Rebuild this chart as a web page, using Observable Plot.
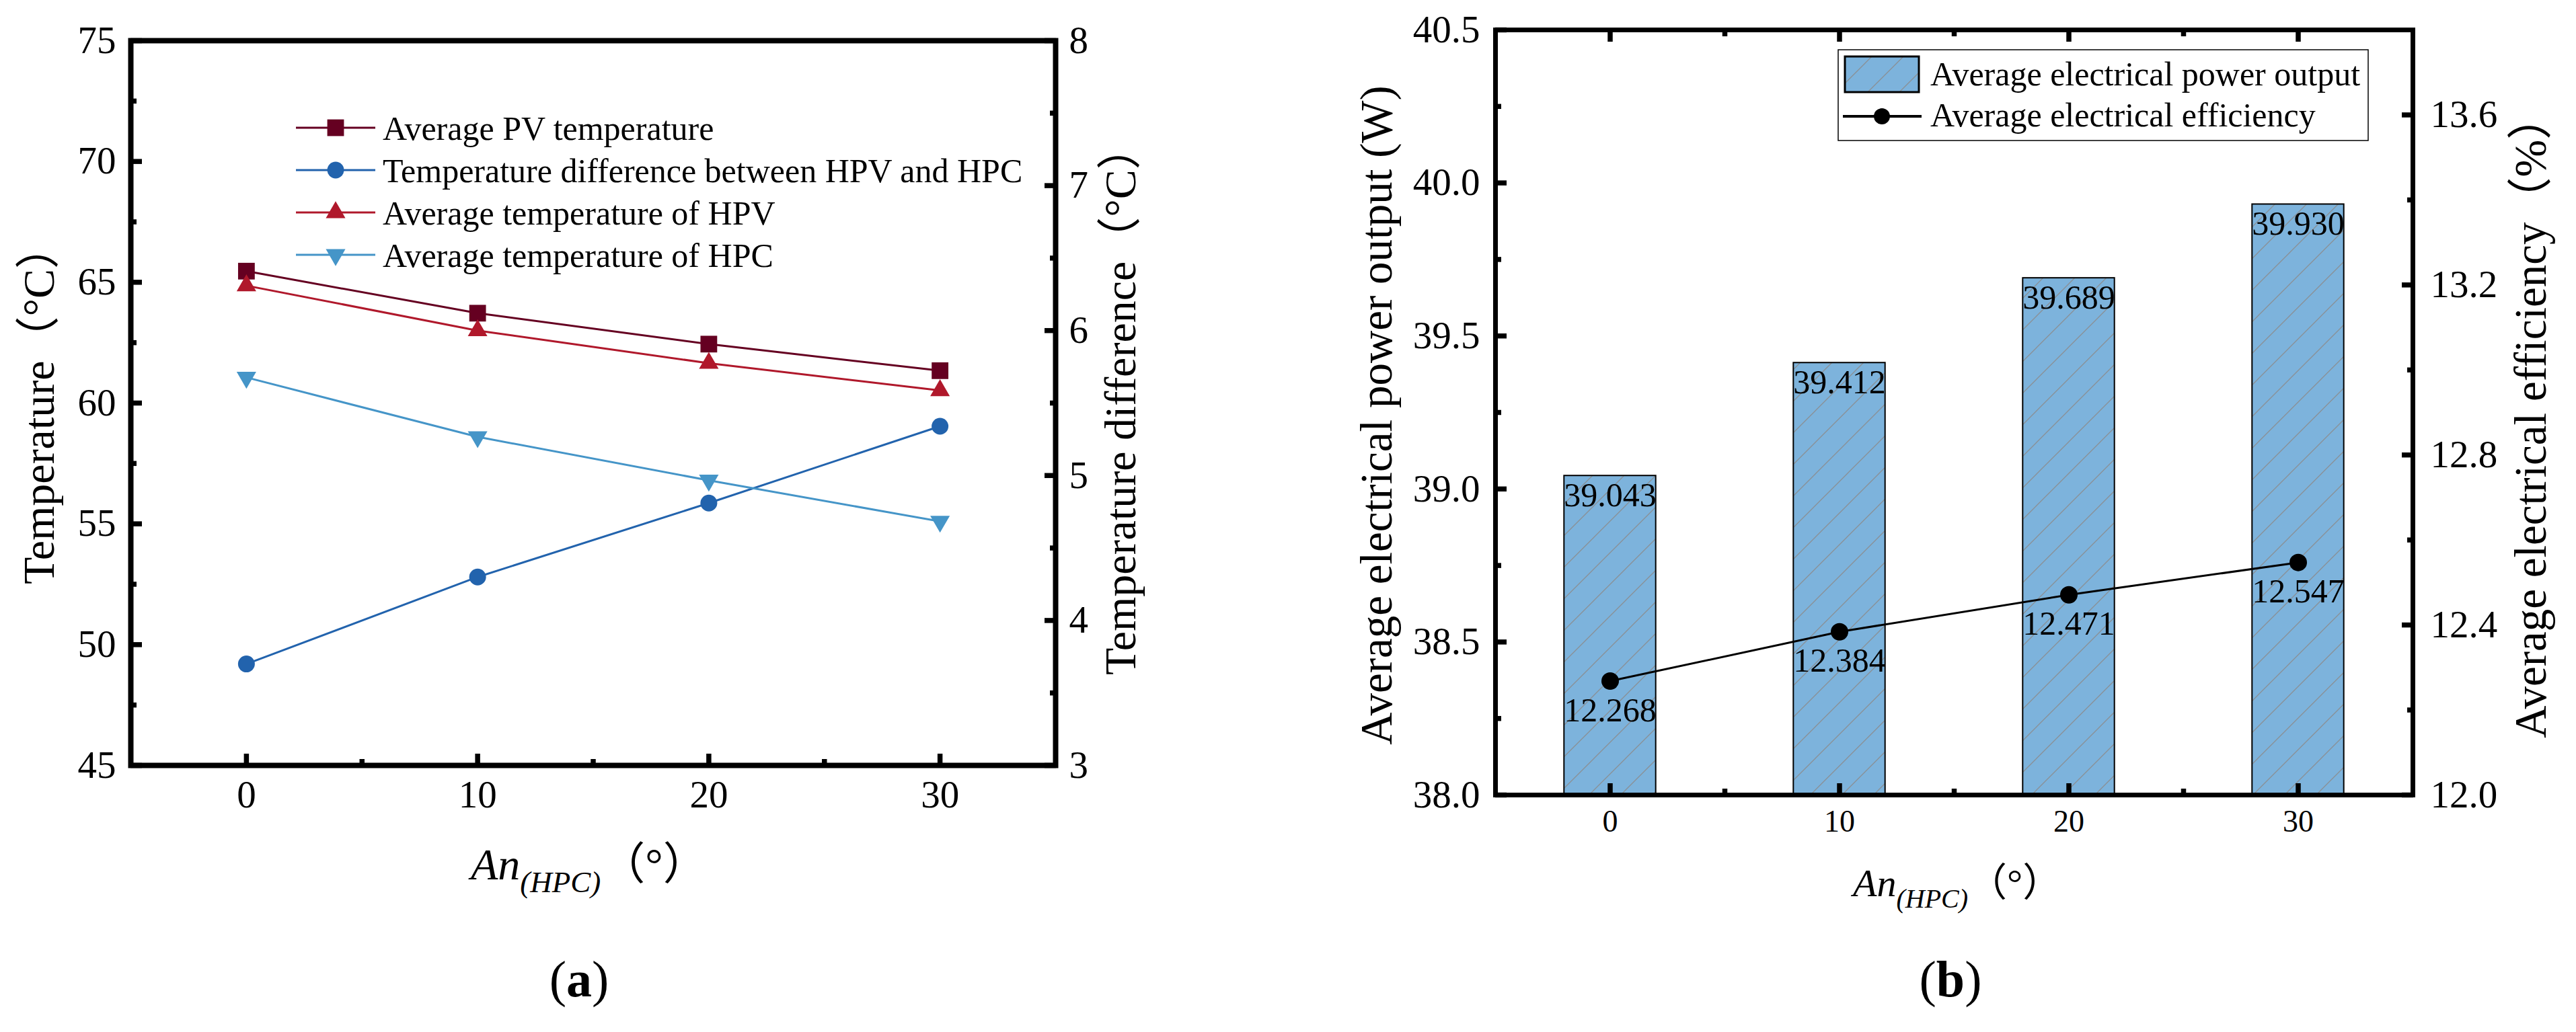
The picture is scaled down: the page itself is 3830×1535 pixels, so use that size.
<!DOCTYPE html>
<html><head><meta charset="utf-8">
<script src="https://cdn.jsdelivr.net/npm/d3@7"></script>
<script src="https://cdn.jsdelivr.net/npm/@observablehq/plot@0.6"></script>
<style>
html,body{margin:0;padding:0;background:#fff;}
#wrap{position:relative;width:3830px;height:1535px;overflow:hidden;background:#fff;}
#wrap > svg{position:absolute;}
#wrap svg, #wrap svg text, #wrap svg tspan{font-family:'Liberation Serif','Noto Sans CJK SC',serif;}
</style></head><body>
<div id="wrap"></div>
<script>
// ---------- data ----------
const angles = [0, 10, 20, 30];
const pvTemp = [65.46, 63.72, 62.44, 61.34];      // Average PV temperature (left axis)
const tempDiff = [3.70, 4.30, 4.81, 5.34];        // Temperature difference HPV-HPC (right axis)
const hpvTemp = [64.86, 63.00, 61.65, 60.52];     // Average temperature of HPV
const hpcTemp = [61.06, 58.60, 56.80, 55.10];     // Average temperature of HPC
const powerOut = [39.043, 39.412, 39.689, 39.930]; // W
const efficiency = [12.268, 12.384, 12.471, 12.547]; // %

const xTicks = [0, 10, 20, 30];
const xMinor = [5, 15, 25];
const xDomain = [-5, 35];
const tempDomain = [45, 75];
const tempTicks = [45, 50, 55, 60, 65, 70, 75];
const tempMinor = [47.5, 52.5, 57.5, 62.5, 67.5, 72.5];
const diffDomain = [3, 8];
const diffTicks = [3, 4, 5, 6, 7, 8];
const diffMinor = [3.5, 4.5, 5.5, 6.5, 7.5];
const powerDomain = [38.0, 40.5];
const powerTicks = [38.0, 38.5, 39.0, 39.5, 40.0, 40.5];
const powerMinor = [38.25, 38.75, 39.25, 39.75, 40.25];
const effDomain = [12.0, 13.8];
const effTicks = [12.0, 12.4, 12.8, 13.2, 13.6];
const effMinor = [12.2, 12.6, 13.0, 13.4];

const legendA = ["Average PV temperature", "Temperature difference between HPV and HPC", "Average temperature of HPV", "Average temperature of HPC"];
const legendB = ["Average electrical power output", "Average electrical efficiency"];

const colors = {pv: "#650021", diff: "#2263ad", hpv: "#b0182b", hpc: "#4595c8"};
const barColor = "#7db3dc";
const FONT = "'Liberation Serif', 'Noto Sans CJK SC', serif";

// ---------- helpers ----------
const wrap = d3.select("#wrap");
// hatch pattern defs
const defsSvg = wrap.append("svg").attr("width", 0).attr("height", 0).style("left", "0px").style("top", "0px");
const pat = defsSvg.append("defs").append("pattern").attr("id", "hatch")
  .attr("patternUnits", "userSpaceOnUse").attr("width", 47).attr("height", 47);
pat.append("rect").attr("width", 47).attr("height", 47).attr("fill", barColor);
pat.append("path").attr("d", "M0,47L47,0M-6,6L6,-6M41,53L53,41")
  .attr("stroke", "#8a8f94").attr("stroke-width", 1.3).attr("fill", "none");

const TW = 7.5;
function tickX(values, size, anchor) {
  return Plot.axisX(values, {anchor, tickSize: size, dy: anchor === "bottom" ? -size : size, fill: "none", strokeWidth: TW, label: null, tickFormat: () => ""});
}
function tickY(values, size, anchor) {
  return Plot.axisY(values, {anchor, tickSize: size, dx: anchor === "left" ? size : -size, fill: "none", strokeWidth: TW, label: null, tickFormat: () => ""});
}
function serif(svg) {
  d3.select(svg).attr("font-family", FONT).style("font-family", FONT);
  d3.select(svg).selectAll("text").attr("font-family", FONT);
}

// ---------- panel (a) ----------
const mapDiff = v => tempDomain[0] + (v - diffDomain[0]) * (tempDomain[1] - tempDomain[0]) / (diffDomain[1] - diffDomain[0]);
const unmapDiff = y => diffDomain[0] + (y - tempDomain[0]) * (diffDomain[1] - diffDomain[0]) / (tempDomain[1] - tempDomain[0]);
const rowsA = angles.map((a, i) => ({a, pv: pvTemp[i], diff: mapDiff(tempDiff[i]), hpv: hpvTemp[i], hpc: hpcTemp[i]}));

const seriesA = [
  {key: "pv", color: colors.pv, symbol: "square", r: 14, rotate: 0},
  {key: "diff", color: colors.diff, symbol: "circle", r: 12.5, rotate: 0},
  {key: "hpv", color: colors.hpv, symbol: "triangle", r: 10.8, rotate: 0},
  {key: "hpc", color: colors.hpc, symbol: "triangle", r: 10.8, rotate: 180}
];

const plotA = Plot.plot({
  width: 1700, height: 1250,
  marginLeft: 194, marginRight: 131, marginTop: 60, marginBottom: 112,
  x: {domain: xDomain},
  y: {domain: tempDomain},
  style: {fontFamily: FONT, fontSize: "56px", color: "black", background: "transparent", overflow: "visible"},
  marks: [
    ...seriesA.map(s => Plot.line(rowsA, {x: "a", y: s.key, stroke: s.color, strokeWidth: 3})),
    ...seriesA.map(s => Plot.dot(rowsA, {x: "a", y: s.key, fill: s.color, symbol: s.symbol, r: s.r, rotate: s.rotate})),
    tickX(xTicks, 17, "bottom"), tickX(xMinor, 9, "bottom"),
    tickY(tempTicks, 17, "left"), tickY(tempMinor, 9, "left"),
    tickY(diffTicks.map(mapDiff), 17, "right"), tickY(diffMinor.map(mapDiff), 9, "right"),
    Plot.axisX(xTicks, {anchor: "bottom", tickSize: 0, tickPadding: 22, label: null, fontSize: 57}),
    Plot.axisY(tempTicks, {anchor: "left", tickSize: 0, tickPadding: 22, label: null, fontSize: 57}),
    Plot.axisY(diffTicks.map(mapDiff), {anchor: "right", tickSize: 0, tickPadding: 20, label: null, fontSize: 57, tickFormat: d => String(Math.round(unmapDiff(d)))}),
    Plot.frame({stroke: "black", strokeWidth: 8})
  ]
});
serif(plotA);
d3.select(plotA).style("position", "absolute").style("left", "0px").style("top", "0px");
wrap.node().appendChild(plotA);

// ---------- panel (b) ----------
const mapEff = v => powerDomain[0] + (v - effDomain[0]) * (powerDomain[1] - powerDomain[0]) / (effDomain[1] - effDomain[0]);
const unmapEff = y => effDomain[0] + (y - powerDomain[0]) * (effDomain[1] - effDomain[0]) / (powerDomain[1] - powerDomain[0]);
const rowsB = angles.map((a, i) => ({a, p: powerOut[i], e: efficiency[i], ey: mapEff(efficiency[i])}));
const halfBar = 2;

const plotB = Plot.plot({
  width: 1930, height: 1250,
  marginLeft: 323, marginRight: 243, marginTop: 44, marginBottom: 68,
  x: {domain: xDomain},
  y: {domain: powerDomain},
  style: {fontFamily: FONT, fontSize: "56px", color: "black", background: "transparent", overflow: "visible"},
  marks: [
    Plot.rect(rowsB, {x1: d => d.a - halfBar, x2: d => d.a + halfBar, y1: () => powerDomain[0], y2: "p", fill: "url(#hatch)", stroke: "black", strokeWidth: 2}),
    Plot.text(rowsB, {x: "a", y: "p", text: d => d.p.toFixed(3), lineAnchor: "top", dy: 10, fontSize: 50, fill: "black"}),
    Plot.line(rowsB, {x: "a", y: "ey", stroke: "black", strokeWidth: 3}),
    Plot.dot(rowsB, {x: "a", y: "ey", fill: "black", r: 13}),
    Plot.text(rowsB, {x: "a", y: "ey", text: d => d.e.toFixed(3), lineAnchor: "top", dy: 24, fontSize: 50, fill: "black"}),
    tickX(xTicks, 17, "bottom"), tickX(xMinor, 9, "bottom"),
    tickX(xTicks, 17, "top"), tickX(xMinor, 9, "top"),
    tickY(powerTicks, 17, "left"), tickY(powerMinor, 9, "left"),
    tickY(effTicks.map(mapEff), 17, "right"), tickY(effMinor.map(mapEff), 9, "right"),
    Plot.axisX(xTicks, {anchor: "bottom", tickSize: 0, tickPadding: 22, label: null, fontSize: 46}),
    Plot.axisY(powerTicks, {anchor: "left", tickSize: 0, tickPadding: 23, label: null, fontSize: 57, tickFormat: d => d.toFixed(1)}),
    Plot.axisY(effTicks.map(mapEff), {anchor: "right", tickSize: 0, tickPadding: 26, label: null, fontSize: 57, tickFormat: d => unmapEff(d).toFixed(1)}),
    Plot.frame({stroke: "black", strokeWidth: 7})
  ]
});
serif(plotB);
d3.select(plotB).style("position", "absolute").style("left", "1900px").style("top", "0px");
wrap.node().appendChild(plotB);

// ---------- overlay: titles, legends, captions ----------
const ov = wrap.append("svg").attr("width", 3830).attr("height", 1535)
  .style("left", "0px").style("top", "0px").style("pointer-events", "none")
  .attr("font-family", FONT).attr("fill", "black");

function vtitle(x, y, str, size) {
  ov.append("text").attr("transform", `translate(${x},${y}) rotate(-90)`)
    .attr("text-anchor", "start").attr("font-size", size).text(str);
}
vtitle(80, 869, "Temperature（°C）", 66);
vtitle(1688, 1004, "Temperature difference（°C）", 66);
vtitle(2069, 1108, "Average electrical power output (W)", 67);
vtitle(3785, 1098, "Average electrical efficiency（%）", 67);

function xlabel(x, y, size, sub, shift) {
  const t = ov.append("text").attr("x", x).attr("y", y).attr("font-size", size);
  t.append("tspan").attr("font-style", "italic").text("An");
  t.append("tspan").attr("font-style", "italic").attr("font-size", sub).attr("dy", shift).text("(HPC)");
  t.append("tspan").attr("dy", -shift).text("（°）");
}
xlabel(700, 1308, 66, 45, 19);
xlabel(2755, 1333, 58, 40, 17);

function caption(x, y, letter) {
  const t = ov.append("text").attr("x", x).attr("y", y).attr("font-size", 76).attr("text-anchor", "middle");
  t.append("tspan").text("(");
  t.append("tspan").attr("font-weight", "bold").text(letter);
  t.append("tspan").text(")");
}
caption(861, 1482, "a");
caption(2900, 1482, "b");

// legend (a)
const legRows = [190, 253, 316, 379];
const symMap = {square: d3.symbolSquare, circle: d3.symbolCircle, triangle: d3.symbolTriangle};
seriesA.forEach((s, i) => {
  const y = legRows[i];
  ov.append("line").attr("x1", 440).attr("x2", 558).attr("y1", y).attr("y2", y)
    .attr("stroke", s.color).attr("stroke-width", 3);
  ov.append("path").attr("d", d3.symbol().type(symMap[s.symbol]).size(Math.PI * s.r * s.r)())
    .attr("transform", `translate(499,${y}) rotate(${s.rotate})`).attr("fill", s.color);
  ov.append("text").attr("x", 569).attr("y", y + 18).attr("font-size", 50).text(legendA[i]);
});

// legend (b)
ov.append("rect").attr("x", 2733).attr("y", 74).attr("width", 788).attr("height", 135)
  .attr("fill", "white").attr("stroke", "black").attr("stroke-width", 1.5);
ov.append("rect").attr("x", 2743).attr("y", 84).attr("width", 110).attr("height", 53)
  .attr("fill", "url(#hatch)").attr("stroke", "black").attr("stroke-width", 3);
ov.append("text").attr("x", 2870).attr("y", 127).attr("font-size", 50).text(legendB[0]);
ov.append("line").attr("x1", 2740).attr("x2", 2857).attr("y1", 173).attr("y2", 173)
  .attr("stroke", "black").attr("stroke-width", 4);
ov.append("circle").attr("cx", 2798).attr("cy", 173).attr("r", 12).attr("fill", "black");
ov.append("text").attr("x", 2870).attr("y", 188).attr("font-size", 50).text(legendB[1]);
</script>
</body></html>
